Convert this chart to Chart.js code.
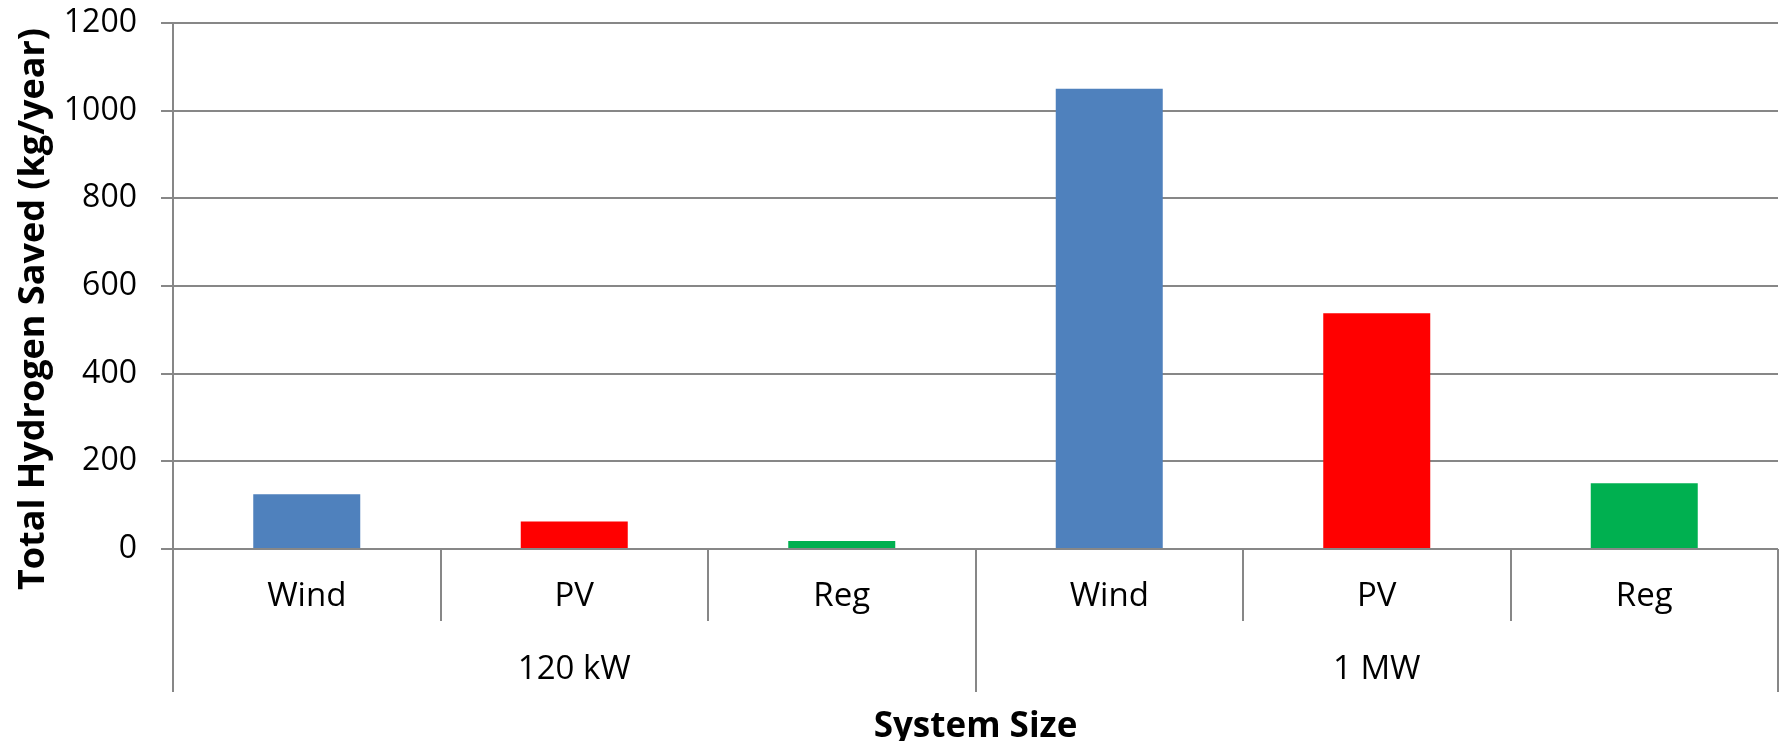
<!DOCTYPE html>
<html>
<head>
<meta charset="utf-8">
<script src="https://cdn.jsdelivr.net/npm/chart.js@4.4.1/dist/chart.umd.min.js"></script>
<style>
  html, body { margin: 0; padding: 0; background: #ffffff; }
  #wrap { width: 1785px; height: 741px; }
</style>
</head>
<body>
<div id="wrap"><canvas id="chart" width="1785" height="741"></canvas></div>
<script>
// Hydrogen saved per year, grouped by system size and energy source
const sources = ['Wind', 'PV', 'Reg', 'Wind', 'PV', 'Reg'];
const systemSizes = ['120 kW', '1 MW'];
const sourcesPerSize = 3;
const hydrogenSaved = [125, 63, 18, 1050, 538, 150];
const sourceColors = { Wind: '#4F81BD', PV: '#FF0000', Reg: '#00B050' };
const yMin = 0, yMax = 1200, yStep = 200;
const xTitle = 'System Size';
const yTitle = 'Total Hydrogen Saved (kg/year)';

const FONT = "'Open Sans', 'Liberation Sans', sans-serif";
const GRID = '#878787';

// Two-level category axis (sources, then size groups) plus both axis titles
const groupedAxis = {
  id: 'groupedAxis',
  afterDraw(chart) {
    const { ctx, scales: { x, y } } = chart;
    const n = sources.length;
    const step = x.getPixelForValue(1) - x.getPixelForValue(0);
    const base = y.getPixelForValue(0);
    const innerBottom = base + 72;
    const outerBottom = base + 143;
    ctx.save();
    ctx.strokeStyle = GRID;
    ctx.lineWidth = 2;
    for (let i = 0; i <= n; i++) {
      const px = Math.round(x.getPixelForValue(Math.min(i, n - 1)) + (i === n ? step / 2 : -step / 2));
      ctx.beginPath();
      ctx.moveTo(px, base);
      ctx.lineTo(px, i % sourcesPerSize === 0 ? outerBottom : innerBottom);
      ctx.stroke();
    }
    ctx.fillStyle = '#000000';
    ctx.font = '33px ' + FONT;
    ctx.textAlign = 'center';
    ctx.textBaseline = 'middle';
    sources.forEach((s, i) => ctx.fillText(s, x.getPixelForValue(i), base + 48));
    systemSizes.forEach((g, k) => {
      const a = x.getPixelForValue(k * sourcesPerSize) - step / 2;
      const b = x.getPixelForValue(k * sourcesPerSize + sourcesPerSize - 1) + step / 2;
      ctx.fillText(g, (a + b) / 2, base + 121);
    });

    // axis titles
    ctx.font = 'bold 35px ' + FONT;
    ctx.fillText(xTitle, (x.left + x.right) / 2, base + 178);
    ctx.font = 'bold 36px ' + FONT;
    ctx.translate(34, (y.top + base) / 2 + 23);
    ctx.rotate(-Math.PI / 2);
    ctx.fillText(yTitle, 0, 0);
    ctx.restore();
  }
};

new Chart(document.getElementById('chart'), {
  type: 'bar',
  data: {
    labels: sources,
    datasets: [{
      data: hydrogenSaved,
      backgroundColor: sources.map(s => sourceColors[s]),
      borderWidth: 0,
      barPercentage: 0.4,
      categoryPercentage: 1.0
    }]
  },
  options: {
    responsive: false,
    animation: false,
    layout: { padding: { top: 23, right: 7, left: 0, bottom: 0 } },
    plugins: { legend: { display: false }, tooltip: { enabled: false } },
    scales: {
      x: {
        ticks: { display: false },
        grid: { display: false },
        border: { display: false },
        afterFit(scale) { scale.height = 192; }
      },
      y: {
        min: yMin,
        max: yMax,
        ticks: {
          stepSize: yStep,
          color: '#000000',
          font: { family: FONT, size: 32 },
          padding: 24,
          callback: v => String(v)
        },
        grid: { color: GRID, lineWidth: 2, tickLength: 12 },
        border: { color: GRID, width: 2 },
        afterFit(scale) {
          scale.width = 173;
          scale.paddingTop = 0;
          scale.paddingBottom = 0;
        }
      }
    }
  },
  plugins: [groupedAxis]
});
</script>
</body>
</html>
